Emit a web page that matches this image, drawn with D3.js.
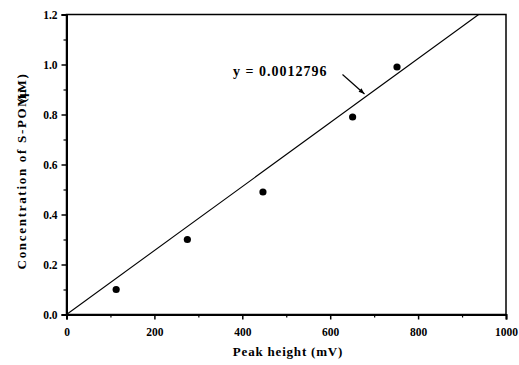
<!DOCTYPE html>
<html>
<head>
<meta charset="utf-8">
<script src="https://cdn.jsdelivr.net/npm/d3@7"></script>
<style>
  html, body { margin: 0; padding: 0; background: #fff; }
  svg { display: block; }
  text { font-family: "Liberation Serif", "Times New Roman", serif; font-weight: bold; fill: #000; }
</style>
</head>
<body>
<svg id="chart" width="519" height="365"></svg>
<script>
// Calibration points: peak height (mV) vs. concentration
const peakHeights = [113, 275, 447, 651, 752];
const concentrations = [0.10, 0.30, 0.49, 0.79, 0.99];
const slope = 0.0012796;
const fitLabel = "y = 0.0012796";

const xMajorTicks = [0, 200, 400, 600, 800, 1000];
const xMinorTicks = [100, 300, 500, 700, 900];
const yMajorTicks = [0.0, 0.2, 0.4, 0.6, 0.8, 1.0, 1.2];
const yMinorTicks = [0.1, 0.3, 0.5, 0.7, 0.9, 1.1];

const svg = d3.select("#chart");
const margin = { left: 66.5, right: 13, top: 14.5, bottom: 50.5 };
const W = 519, H = 365;

const x = d3.scaleLinear().domain([0, 1000]).range([margin.left, W - margin.right]);
const y = d3.scaleLinear().domain([0, 1.2]).range([H - margin.bottom, margin.top]);

// Frame (top and right)
svg.append("rect")
  .attr("x", x(0)).attr("y", y(1.2))
  .attr("width", x(1000) - x(0)).attr("height", y(0) - y(1.2))
  .attr("fill", "none").attr("stroke", "#000").attr("stroke-width", 1.5);

// Bottom axis
const xAxis = d3.axisBottom(x).tickValues(xMajorTicks).tickFormat(d3.format("d"))
  .tickSize(5).tickPadding(8);
const gx = svg.append("g").attr("transform", `translate(0,${y(0)})`).call(xAxis);
gx.select(".domain").attr("stroke-width", 2);
gx.selectAll(".tick line").attr("stroke-width", 1.5);
gx.selectAll("text").attr("font-size", 11.5).style("font-family", "Liberation Serif").style("font-weight", "bold");
svg.append("g").attr("transform", `translate(0,${y(0)})`)
  .call(d3.axisBottom(x).tickValues(xMinorTicks).tickSize(3).tickFormat(""))
  .call(g => g.select(".domain").remove())
  .selectAll(".tick line").attr("stroke-width", 1.2);

// Left axis
const yAxis = d3.axisLeft(y).tickValues(yMajorTicks).tickFormat(d3.format(".1f"))
  .tickSize(5).tickPadding(4);
const gy = svg.append("g").attr("transform", `translate(${x(0)},0)`).call(yAxis);
gy.select(".domain").attr("stroke-width", 2);
gy.selectAll(".tick line").attr("stroke-width", 1.5);
gy.selectAll("text").attr("font-size", 11.5).style("font-family", "Liberation Serif").style("font-weight", "bold");
svg.append("g").attr("transform", `translate(${x(0)},0)`)
  .call(d3.axisLeft(y).tickValues(yMinorTicks).tickSize(3).tickFormat(""))
  .call(g => g.select(".domain").remove())
  .selectAll(".tick line").attr("stroke-width", 1.2);

// Fitted line through the origin, clipped at the top of the plot
const xEnd = 1.2 / slope;
svg.append("line")
  .attr("x1", x(0)).attr("y1", y(0))
  .attr("x2", x(xEnd)).attr("y2", y(slope * xEnd))
  .attr("stroke", "#000").attr("stroke-width", 1.1);

// Data points
svg.selectAll("circle.pt").data(peakHeights).enter().append("circle")
  .attr("class", "pt")
  .attr("cx", d => x(d))
  .attr("cy", (d, i) => y(concentrations[i]))
  .attr("r", 3.6)
  .attr("fill", "#000");

// Equation label with pointer arrow
svg.append("text")
  .attr("x", 233).attr("y", 76)
  .attr("font-size", 14)
  .attr("letter-spacing", 1)
  .text(fitLabel);

const ax1 = [342.5, 74.5], ax2 = [364.5, 94];
svg.append("line")
  .attr("x1", ax1[0]).attr("y1", ax1[1]).attr("x2", ax2[0]).attr("y2", ax2[1])
  .attr("stroke", "#000").attr("stroke-width", 1.2);
const ang = Math.atan2(ax2[1] - ax1[1], ax2[0] - ax1[0]);
const hl = 6, hw = 2.2;
const bx = ax2[0] - hl * Math.cos(ang), by = ax2[1] - hl * Math.sin(ang);
svg.append("path")
  .attr("d", `M${ax2[0]},${ax2[1]} L${bx - hw * Math.sin(ang)},${by + hw * Math.cos(ang)} L${bx + hw * Math.sin(ang)},${by - hw * Math.cos(ang)} Z`)
  .attr("fill", "#000");

// Axis titles
svg.append("text")
  .attr("x", 288).attr("y", 356)
  .attr("text-anchor", "middle")
  .attr("font-size", 13)
  .attr("letter-spacing", 0.8)
  .text("Peak height (mV)");

const yt = svg.append("text")
  .attr("transform", "translate(26,171) rotate(-90)")
  .attr("text-anchor", "middle")
  .attr("font-size", 13)
  .attr("letter-spacing", 1.7);
yt.append("tspan").text("Concentration of S-POM");
yt.append("tspan").attr("dx", -10).text("(μ");
yt.append("tspan").attr("dx", -5).text("M)");
</script>
</body>
</html>
